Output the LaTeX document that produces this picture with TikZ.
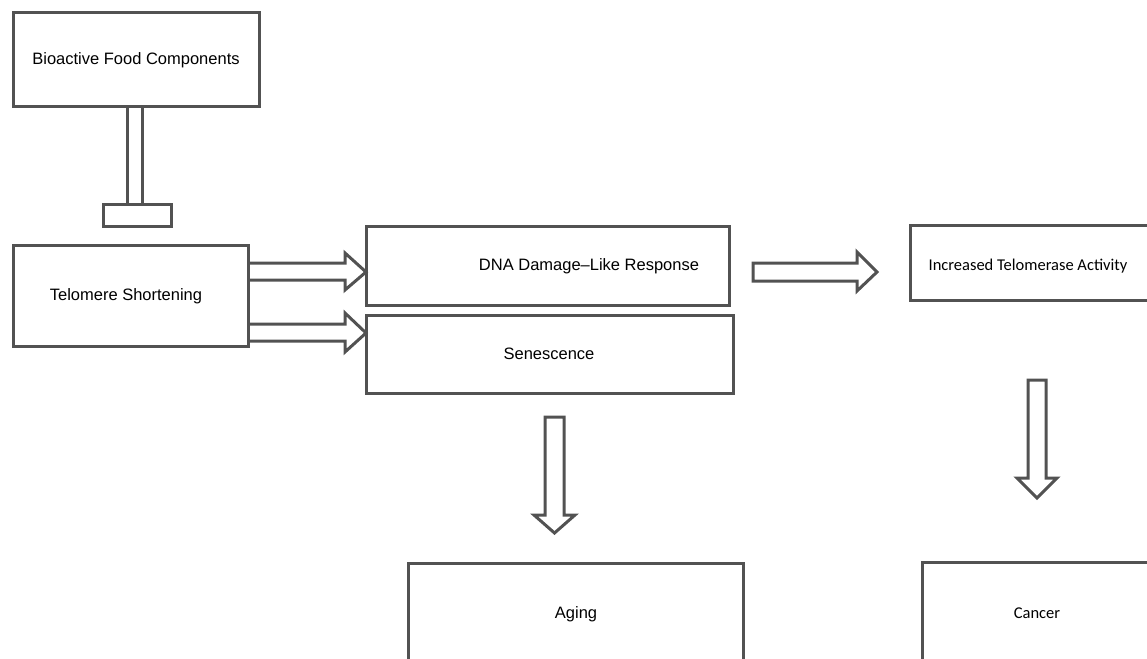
\documentclass[tikz,border=0pt]{standalone}
\usepackage{fontspec}
\setmainfont{Liberation Sans}
\newfontfamily\calfont{Carlito}
\begin{document}
\begin{tikzpicture}[x=1pt,y=-1pt,
  line join=miter,
  outl/.style={draw=black!68, line width=3pt},
  box/.style={outl, rectangle, inner sep=0pt, outer sep=0pt, font=\fontsize{16.5}{20}\selectfont},
  blockarrow/.style={outl},
  lbl/.style={inner sep=0pt, font=\fontsize{16.5}{20}\selectfont}]
\useasboundingbox (0,0) rectangle (1147,658);
\clip (0,0) rectangle (1147,658);
% boxes
\node[box, minimum width=246, minimum height=94] (bio) at (136,60) {};
\node[lbl] (biot) at (136,60) {Bioactive Food Components};
\node[box, minimum width=235, minimum height=101] (telo) at (130.5,295.5) {};
\node[lbl] (telot) at (126,296) {Telomere Shortening};
\node[box, minimum width=363, minimum height=79] (dna) at (547.5,265.5) {};
\node[lbl] (dnat) at (589,266) {DNA Damage--Like Response};
\node[box, minimum width=367, minimum height=78] (sen) at (549.5,354) {};
\node[lbl] (sent) at (549,354) {Senescence};
\node[box, minimum width=260, minimum height=75] (inc) at (1040,262.5) {};
\node[lbl, font=\calfont\fontsize{16.5}{20}\selectfont] (inct) at (1028,266) {Increased Telomerase Activity};
\node[box, minimum width=335, minimum height=140] (aging) at (575.5,633) {};
\node[lbl] (agingt) at (576,614) {Aging};
\node[box, minimum width=260, minimum height=140] (cancer) at (1052,632) {};
\node[lbl, font=\calfont\fontsize{16.5}{20}\selectfont] (cancert) at (1037,613) {Cancer};
% T-bar inhibition
\node[box, minimum width=68, minimum height=22] (bar) at (137,215) {};
\draw[outl] (bio.south -| 127,0) -- (bar.north -| 127,0);
\draw[outl] (bio.south -| 142,0) -- (bar.north -| 142,0);
% block arrows from Telomere Shortening
\draw[blockarrow] (telo.east |- 0,263) -- (345,263) -- (345,253) -- (dna.west |- 0,272) -- (345,290) -- (345,280) -- (telo.east |- 0,280);
\draw[blockarrow] (telo.east |- 0,324) -- (345,324) -- (345,313) -- (sen.west |- 0,333) -- (345,352) -- (345,341) -- (telo.east |- 0,341);
% arrow DNA -> Increased
\draw[blockarrow] (753,263) -- (857,263) -- (857,252) -- (877,272) -- (857,291) -- (857,281) -- (753,281) -- cycle;
% down arrows
\draw[blockarrow] (545,417) -- (545,515) -- (534,515) -- (554.5,533) -- (575,515) -- (564,515) -- (564,417) -- cycle;
\draw[blockarrow] (1028,380) -- (1028,478) -- (1017,478) -- (1037,498) -- (1057,478) -- (1046,478) -- (1046,380) -- cycle;
\end{tikzpicture}
\end{document}
